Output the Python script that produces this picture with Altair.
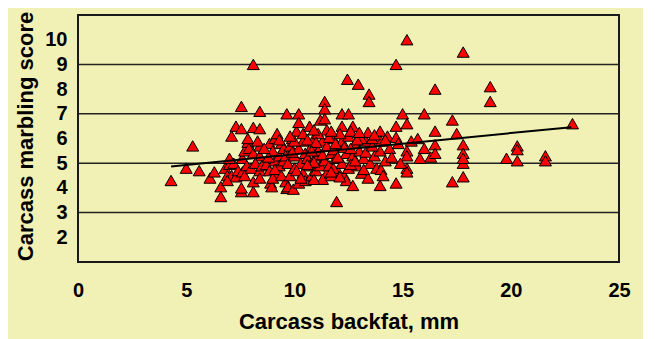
import altair as alt
import pandas as pd

# Carcass backfat (mm) / marbling score, grouped by backfat range
bx1 = [4.3, 5.0, 5.3, 5.6, 6.1, 6.3, 6.6, 6.6, 6.8, 6.9, 7.0, 7.1, 7.1, 7.2, 7.3, 7.3, 7.4, 7.0, 6.9]
my1 = [4.3, 4.8, 5.7, 4.7, 4.4, 4.65, 4.05, 3.65, 4.8, 4.5, 4.95, 4.5, 6.1, 5.0, 6.5, 4.45, 4.7, 5.2, 4.3]

bx2 = [7.55, 7.55, 7.55, 7.55, 7.6, 7.6, 7.7, 7.8, 7.85, 7.85, 7.9, 7.7,
       8.1, 8.1, 8.1, 8.1, 8.1, 8.0, 8.4, 8.4, 8.4, 8.4, 8.4, 8.4, 8.2, 8.3, 8.5]
my2 = [7.3, 6.4, 3.85, 4.0, 4.65, 5.2, 5.5, 4.9, 5.85, 6.0, 5.6, 4.5,
       9.0, 6.45, 5.4, 3.85, 4.25, 4.8, 7.1, 6.4, 5.7, 5.3, 4.7, 4.4, 5.0, 5.9, 4.9]

bx3 = [8.7, 8.85, 8.85, 8.9, 8.95, 9.0, 9.1, 9.1, 9.2, 9.3, 9.0, 9.4, 9.3, 8.8, 9.5, 9.2, 9.6, 9.5, 9.1,
       9.3, 9.6, 9.4, 8.6]
my3 = [4.95, 5.8, 4.7, 4.2, 4.05, 5.5, 6.0, 5.1, 4.6, 5.3, 4.4, 5.8, 4.9, 5.25, 5.6, 6.2, 4.25, 5.1, 4.75,
       5.95, 5.3, 4.5, 5.6]

bx4 = [9.65, 9.65, 9.7, 9.7, 9.8, 9.8, 9.9, 9.95, 10.0, 10.0, 10.1, 10.2,
       10.2, 10.2, 10.2, 10.3, 10.4, 10.4, 10.5, 10.5, 9.9, 10.1, 10.0, 10.3,
       9.8, 10.4]
my4 = [7.0, 3.98, 4.05, 5.0, 5.7, 4.5, 6.0, 3.95, 5.3, 4.8, 6.3, 7.0,
       6.65, 4.2, 5.6, 5.0, 4.6, 5.9, 5.4, 4.3, 5.45, 4.7, 5.9, 4.4,
       6.1, 6.2]

bx5 = [10.7, 10.6, 10.7, 10.8, 10.8, 10.9, 11.0, 11.0, 11.1, 11.2, 11.2, 11.3, 11.4,
       11.4, 11.4, 11.5, 11.4, 11.5, 11.3, 10.9, 11.1, 11.5, 10.6, 11.0, 10.8,
       10.9, 10.6, 11.3, 10.9]
my5 = [6.5, 5.2, 4.9, 5.7, 4.5, 6.0, 5.3, 4.7, 5.5, 6.75, 4.9, 5.9, 7.5,
       7.2, 6.8, 6.35, 5.1, 4.6, 4.35, 5.05, 6.2, 5.7, 5.95, 5.85, 5.5,
       6.35, 4.95, 5.35, 4.35]

bx6 = [11.6, 11.7, 11.8, 11.9, 11.95, 12.0, 12.0, 12.2, 12.2, 12.2, 12.2, 12.3, 12.4,
       12.4, 12.45, 12.5, 12.5, 12.5, 11.7, 12.1, 11.8, 11.6, 12.3, 11.8, 11.9,
       11.7, 12.0, 11.7, 12.1]
my6 = [4.9, 5.4, 6.0, 5.2, 3.45, 4.7, 5.7, 7.0, 6.5, 5.9, 5.0, 4.5, 5.4,
       4.3, 8.4, 7.0, 6.1, 4.8, 4.5, 6.2, 5.55, 6.05, 5.65, 4.8, 5.8,
       6.3, 5.25, 4.65, 4.45]

bx7 = [12.7, 12.7, 12.7, 12.8, 12.9, 12.95, 12.95, 13.0, 13.1, 13.2, 13.3,
       13.4, 13.45, 13.45, 13.5, 13.4, 12.6, 13.1, 12.9, 12.6, 13.2,
       12.6, 13.0, 12.8, 13.3]
my7 = [6.5, 4.1, 5.3, 5.8, 4.9, 8.2, 6.05, 5.5, 4.6, 5.2, 5.9,
       6.25, 7.8, 7.5, 5.0, 4.4, 5.6, 6.0, 5.95, 4.95, 4.75,
       6.3, 6.25, 5.1, 5.45]

bx8 = [13.7, 13.8, 13.96, 13.96, 13.96, 14.0, 14.0, 14.2, 14.4, 14.5, 14.3, 13.6, 14.1, 13.6,
       13.7, 14.2]
my8 = [5.3, 4.8, 6.3, 5.5, 4.1, 4.75, 5.9, 5.1, 5.6, 5.25, 6.1, 5.7, 4.5, 6.0,
       6.15, 5.95]

bx9 = [14.7, 14.7, 14.7, 14.7, 14.8, 15.0, 15.2, 15.2, 15.2, 15.2, 15.2, 15.2, 14.9, 15.4]
my9 = [9.0, 6.5, 6.05, 4.2, 5.8, 7.0, 10.0, 6.6, 5.5, 5.3, 4.8, 4.65, 5.0, 5.9]

bx10 = [15.7, 16.0, 16.0, 16.3, 16.5, 16.5, 16.5, 16.5, 15.8,
        17.3, 17.3, 17.5, 17.8, 17.8, 17.8, 17.8, 17.8, 17.8,
        19.05, 19.05, 19.8, 20.3, 20.3, 20.3, 21.6, 21.6, 22.85]
my10 = [6.0, 7.0, 5.6, 5.25, 8.0, 6.3, 5.75, 5.4, 5.2,
        6.75, 4.25, 6.2, 9.5, 5.75, 5.4, 5.0, 4.45, 5.2,
        8.1, 7.5, 5.2, 5.7, 5.55, 5.1, 5.3, 5.1, 6.6]

# Trend line end points
trend_x = [4.3, 22.8]
trend_y = [4.87, 6.46]

grid_values = [3, 5, 7, 9]
y_ticks = [2, 3, 4, 5, 6, 7, 8, 9, 10]
x_ticks = [0, 5, 10, 15, 20, 25]

backfat = bx1 + bx2 + bx3 + bx4 + bx5 + bx6 + bx7 + bx8 + bx9 + bx10
marbling = my1 + my2 + my3 + my4 + my5 + my6 + my7 + my8 + my9 + my10
points = pd.DataFrame({"backfat": backfat, "marbling": marbling})
trend = pd.DataFrame({"backfat": trend_x, "marbling": trend_y})
grid = pd.DataFrame({"g": grid_values})

BG = "#F1F1B5"
FONT = "Liberation Sans"

xscale = alt.Scale(domain=[0, 25], nice=False, zero=False)
yscale = alt.Scale(domain=[1, 11], nice=False, zero=False)

xaxis = alt.Axis(
    values=x_ticks, grid=False, domain=False, ticks=False, tickSize=0,
    labelFont=FONT, labelFontSize=20, labelFontWeight="bold", labelColor="black",
    labelPadding=18, labelFlush=False,
    title="Carcass backfat, mm", titleFont=FONT, titleFontSize=22, titleFontWeight="bold",
    titleColor="black", titleBaseline="alphabetic", titleY=66,
)
yaxis = alt.Axis(
    values=y_ticks, grid=False, domain=False, ticks=False, tickSize=0,
    labelFont=FONT, labelFontSize=20, labelFontWeight="bold", labelColor="black",
    labelPadding=11, labelFlush=False,
    title="Carcass marbling score", titleFont=FONT, titleFontSize=22, titleFontWeight="bold",
    titleColor="black", titleAngle=270, titleBaseline="middle", titleAlign="center",
    titleX=-53, titleY=121,
)

rules = alt.Chart(grid).mark_rule(color="#222222", strokeWidth=1.5).encode(
    y=alt.Y("g:Q", scale=yscale, axis=yaxis),
)

pts = alt.Chart(points).mark_point(
    shape="triangle-up", size=144, filled=True, fill="#FF0000",
    stroke="black", strokeWidth=1, opacity=1,
).encode(
    x=alt.X("backfat:Q", scale=xscale, axis=xaxis),
    y=alt.Y("marbling:Q", scale=yscale, axis=yaxis),
)

line = alt.Chart(trend).mark_line(color="black", strokeWidth=2).encode(
    x=alt.X("backfat:Q", scale=xscale, axis=xaxis),
    y=alt.Y("marbling:Q", scale=yscale, axis=yaxis),
)

chart = alt.layer(rules, pts, line).properties(
    width=541, height=247,
    autosize=alt.AutoSizeParams(type="none"),
    padding={"left": 70, "top": 7, "right": 24, "bottom": 77},
    background=BG,
).configure_view(
    stroke="#1a1a1a", strokeWidth=2, fill=BG,
)

chart.save("out.html", embed_options={"renderer": "svg", "actions": False})
